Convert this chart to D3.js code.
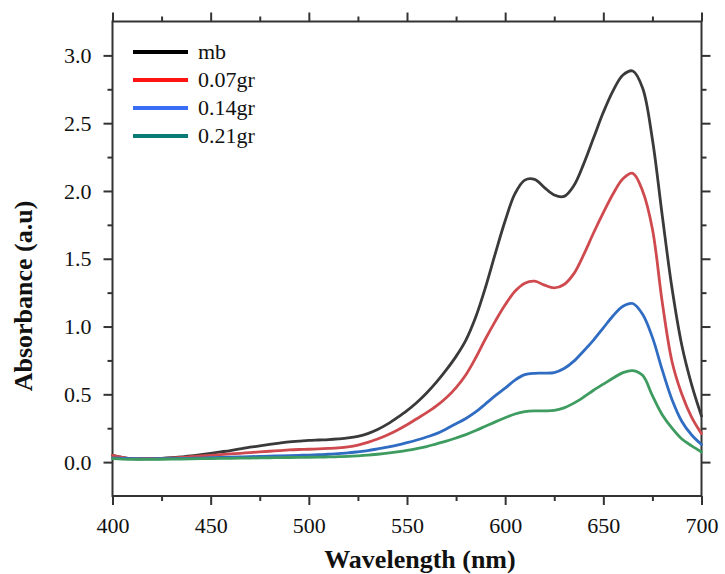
<!DOCTYPE html>
<html><head><meta charset="utf-8">
<script src="https://cdn.jsdelivr.net/npm/d3@7"></script>
<style>body{margin:0;background:#fff}svg{display:block}</style>
</head><body>
<svg id="chart" width="725" height="574"></svg>
<script>
const wavelengths = [400,405,410,415,420,425,430,435,440,445,450,455,460,465,470,475,480,485,490,495,500,505,510,515,520,525,530,535,540,545,550,555,560,565,570,575,580,585,590,595,600,605,610,615,620,625,630,635,640,645,650,655,660,665,670,675,680,685,690,695,700];
const mb = [0.05,0.035,0.025,0.025,0.026,0.028,0.032,0.038,0.045,0.055,0.065,0.075,0.085,0.097,0.11,0.12,0.13,0.14,0.15,0.155,0.16,0.163,0.166,0.171,0.178,0.19,0.21,0.24,0.28,0.328,0.38,0.44,0.51,0.59,0.68,0.78,0.90,1.07,1.29,1.54,1.78,1.98,2.08,2.085,2.025,1.97,1.96,2.04,2.20,2.39,2.58,2.74,2.855,2.885,2.76,2.38,1.82,1.28,0.86,0.57,0.34];
const gr007 = [0.05,0.035,0.025,0.024,0.025,0.027,0.03,0.034,0.04,0.045,0.05,0.055,0.06,0.065,0.07,0.075,0.08,0.085,0.09,0.093,0.095,0.098,0.101,0.105,0.112,0.125,0.145,0.17,0.2,0.235,0.275,0.32,0.365,0.415,0.475,0.55,0.645,0.77,0.91,1.04,1.16,1.26,1.32,1.335,1.305,1.285,1.31,1.39,1.53,1.69,1.84,1.98,2.09,2.13,2.0,1.72,1.18,0.74,0.50,0.33,0.21];
const gr014 = [0.03,0.028,0.025,0.024,0.024,0.025,0.026,0.027,0.028,0.03,0.032,0.034,0.036,0.038,0.04,0.042,0.044,0.046,0.048,0.05,0.052,0.055,0.058,0.063,0.068,0.076,0.085,0.097,0.11,0.125,0.143,0.163,0.185,0.21,0.245,0.283,0.322,0.37,0.43,0.49,0.545,0.605,0.645,0.655,0.656,0.66,0.69,0.745,0.82,0.9,0.99,1.08,1.15,1.17,1.09,0.92,0.68,0.46,0.30,0.20,0.13];
const gr021 = [0.025,0.022,0.02,0.02,0.02,0.021,0.022,0.023,0.024,0.025,0.026,0.027,0.028,0.029,0.03,0.031,0.032,0.033,0.034,0.035,0.036,0.037,0.038,0.04,0.042,0.046,0.051,0.058,0.066,0.076,0.087,0.1,0.115,0.135,0.155,0.178,0.203,0.233,0.265,0.297,0.327,0.355,0.372,0.378,0.378,0.381,0.4,0.435,0.48,0.53,0.575,0.62,0.66,0.675,0.64,0.49,0.35,0.25,0.17,0.12,0.075];
const seriesNames = ["mb","0.07gr","0.14gr","0.21gr"];
const seriesValues = [mb, gr007, gr014, gr021];
const curveColors = ["#3a3a3a","#cf4a4e","#2f6cc2","#3e9c60"];
const legendColors = ["#000000","#ff1414","#3a6df5","#0b7b78"];
const xTicks = [400,450,500,550,600,650,700];
const xMinor = [425,475,525,575,625,675];
const yTicks = [0.0,0.5,1.0,1.5,2.0,2.5,3.0];
const yMinor = [0.25,0.75,1.25,1.75,2.25,2.75];

const svg = d3.select("#chart");
const L = 112.5, R = 701.5, T = 21.5, B = 496;
const x = d3.scaleLinear().domain([400,700]).range([L,R]);
const y = d3.scaleLinear().domain([-0.25,3.25]).range([B,T]);
const font = "'Liberation Serif','Times New Roman',serif";
const axisColor = "#333";

function styleAxis(g){
  g.select(".domain").remove();
  g.selectAll(".tick line").attr("stroke",axisColor).attr("stroke-width",2);
  g.selectAll("text").attr("font-family",font).attr("font-size",22).attr("fill","#111");
}
svg.append("g").attr("transform",`translate(0,${B})`)
  .call(d3.axisBottom(x).tickValues(xTicks).tickSize(9).tickPadding(12).tickFormat(d3.format("d"))).call(styleAxis);
svg.append("g").attr("transform",`translate(0,${B})`)
  .call(d3.axisBottom(x).tickValues(xMinor).tickSize(5).tickFormat("")).call(styleAxis);
svg.append("g").attr("transform",`translate(0,${T})`)
  .call(d3.axisTop(x).tickValues(xTicks).tickSize(9).tickFormat("")).call(styleAxis);
svg.append("g").attr("transform",`translate(0,${T})`)
  .call(d3.axisTop(x).tickValues(xMinor).tickSize(5).tickFormat("")).call(styleAxis);
svg.append("g").attr("transform",`translate(${L},0)`)
  .call(d3.axisLeft(y).tickValues(yTicks).tickSize(9).tickPadding(12).tickFormat(d3.format(".1f"))).call(styleAxis);
svg.append("g").attr("transform",`translate(${L},0)`)
  .call(d3.axisLeft(y).tickValues(yMinor).tickSize(5).tickFormat("")).call(styleAxis);
svg.append("g").attr("transform",`translate(${R},0)`)
  .call(d3.axisRight(y).tickValues(yTicks).tickSize(9).tickFormat("")).call(styleAxis);
svg.append("g").attr("transform",`translate(${R},0)`)
  .call(d3.axisRight(y).tickValues(yMinor).tickSize(5).tickFormat("")).call(styleAxis);

svg.append("rect").attr("x",L).attr("y",T).attr("width",R-L).attr("height",B-T)
  .attr("fill","none").attr("stroke",axisColor).attr("stroke-width",2);

const line = d3.line().x(d=>x(d[0])).y(d=>y(d[1])).curve(d3.curveCatmullRom.alpha(0.5));
seriesValues.forEach((vals,i)=>{
  svg.append("path").datum(wavelengths.map((w,j)=>[w,vals[j]]))
    .attr("d",line).attr("fill","none").attr("stroke",curveColors[i])
    .attr("stroke-width",2.8).attr("stroke-linejoin","round").attr("stroke-linecap","round");
});

const lg = svg.append("g");
seriesNames.forEach((n,i)=>{
  const yy = 52 + i*28;
  lg.append("line").attr("x1",133).attr("x2",188).attr("y1",yy).attr("y2",yy)
    .attr("stroke",legendColors[i]).attr("stroke-width",4);
  lg.append("text").attr("x",198).attr("y",yy+7).text(n)
    .attr("font-family",font).attr("font-size",22).attr("fill","#111");
});

svg.append("text").attr("x",420).attr("y",568).attr("text-anchor","middle")
  .attr("font-family",font).attr("font-weight","bold").attr("font-size",26).attr("fill","#111")
  .text("Wavelength (nm)");
svg.append("text").attr("transform","translate(32,296) rotate(-90)").attr("text-anchor","middle")
  .attr("font-family",font).attr("font-weight","bold").attr("font-size",26).attr("fill","#111")
  .text("Absorbance (a.u)");
</script>
</body></html>
